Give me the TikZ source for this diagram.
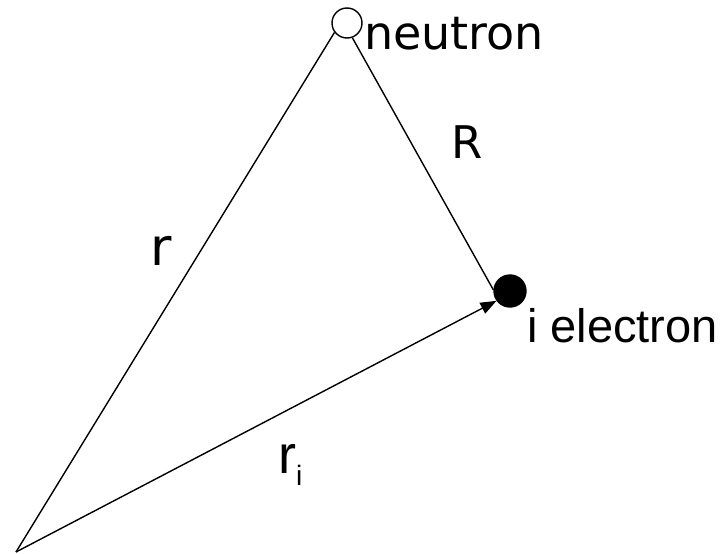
\documentclass[tikz,border=0pt]{standalone}
\usepackage{fontspec}
\setmainfont{Liberation Sans}
\newfontfamily\dejavu{DejaVu Sans}
\usetikzlibrary{arrows.meta}

\begin{document}
\begin{tikzpicture}[x=1pt, y=-1pt,
    particle/.style={circle, draw=black, line width=1.4pt, inner sep=0pt},
    vec/.style={line width=1.4pt},
    lbl/.style={inner sep=0pt, anchor=base west},
    tip/.style={-{Triangle[length=16pt, width=12pt]}}]
    \useasboundingbox (0,0) rectangle (724,554);

    % particles and origin
    \coordinate (o) at (16,552);
    \node[particle, fill=white, minimum size=30pt] (neutron) at (347,23) {};
    \node[particle, fill=black, minimum size=32pt] (electron) at (510,291) {};

    % vectors
    \draw[vec] (o) -- (neutron.217);
    \draw[vec] (neutron.290) -- (electron.176);
    \draw[vec, tip] (o) -- (electron.216);

    % labels
    \node[lbl, font=\dejavu\fontsize{46}{50}\selectfont] (nlabel) at (364,49) {neutron};
    \node[lbl, font=\dejavu\fontsize{45}{50}\selectfont] (Rlabel) at (451,158) {R};
    \node[lbl, font=\dejavu\fontsize{52}{56}\selectfont] (rlabel) at (150,265) {r};
    \node[lbl, font=\fontsize{47}{54}\selectfont] (elabel) at (527,342) {i electron};
    \node[lbl, font=\fontsize{54}{58}\selectfont] (rilabel) at (278,473)
        {r{\fontsize{28}{30}\selectfont\raisebox{-12pt}{i}}};
\end{tikzpicture}
\end{document}
